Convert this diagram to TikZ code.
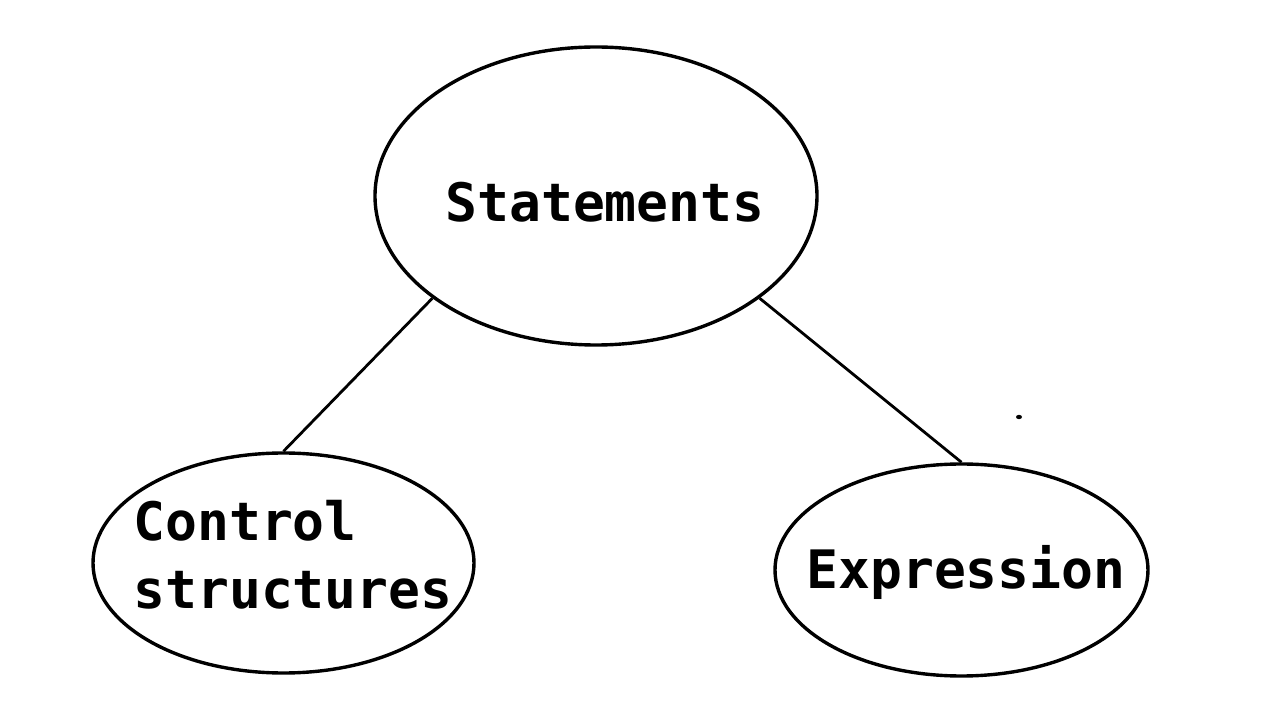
\documentclass[tikz,border=0pt]{standalone}
\usepackage{fontspec}
\newfontfamily\labelfont{DejaVu Sans Mono}
\usetikzlibrary{shapes.geometric}

\begin{document}
\begin{tikzpicture}[x=0.5pt,y=0.5pt,
  oval/.style={draw=black, line width=1.7pt, ellipse, inner sep=0pt},
  word/.style={font=\labelfont\bfseries\fontsize{26.5}{34}\selectfont},
  link/.style={black, line width=1.4pt}]
\useasboundingbox (0,0) rectangle (1282,724);
\node[oval, minimum width=221pt, minimum height=149pt] (stmt) at (596,528) {};
\node[oval, minimum width=190.5pt, minimum height=110pt] (ctrl) at (283.5,161) {};
\node[oval, minimum width=186.5pt, minimum height=106pt] (expr) at (961.5,154) {};
\node[word] (stmttext) at (605,522) {Statements};
\node[word, align=left] (ctrltext) at (293,169) {Control\\structures};
\node[word] (exprtext) at (966,152) {Expression};
\draw[link] (stmt.212) -- (ctrl.north);
\draw[link] (stmt.328) -- (expr.north);
\fill[black] (1019,307) ellipse (3 and 2.2);
\end{tikzpicture}
\end{document}
